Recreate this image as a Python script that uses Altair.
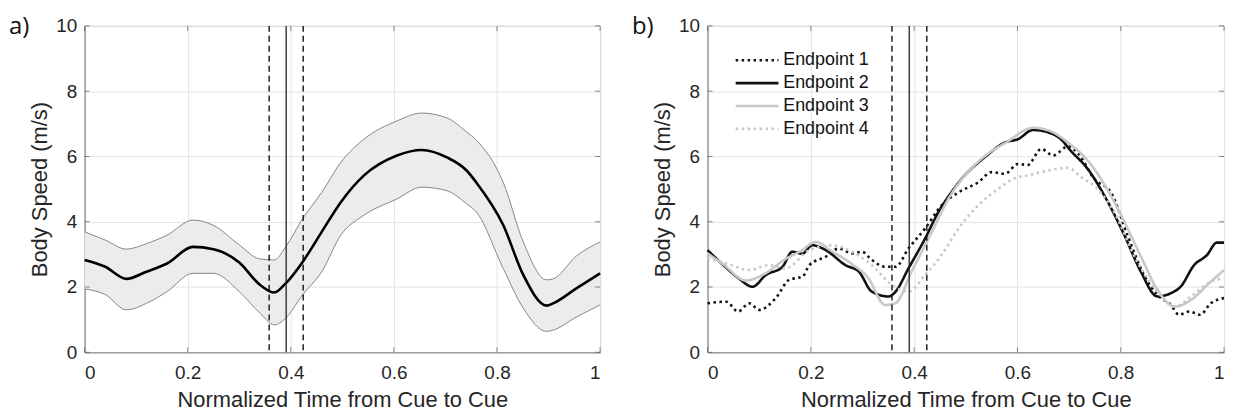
import altair as alt
import pandas as pd

# ---------------- data: panel a (mean and band) ----------------
a_t = [0, 0.04, 0.081, 0.12, 0.16, 0.21, 0.25, 0.3, 0.34, 0.368, 0.39, 0.423, 0.46,
       0.497, 0.542, 0.606, 0.654, 0.703, 0.741, 0.76, 0.812, 0.851, 0.896, 0.909, 0.954, 1.0]
a_mean = [2.83, 2.62, 2.25, 2.47, 2.72, 3.23, 3.16, 2.75, 2.07, 1.83, 2.11, 2.77, 3.69,
          4.6, 5.42, 6.03, 6.2, 5.97, 5.57, 5.2, 3.9, 2.37, 1.43, 1.5, 1.96, 2.42]
a_upper = [3.69, 3.44, 3.16, 3.33, 3.59, 4.05, 3.89, 3.29, 2.86, 2.83, 3.23, 4.1, 4.9,
           5.82, 6.53, 7.09, 7.33, 7.18, 6.75, 6.5, 5.21, 3.38, 2.22, 2.25, 2.95, 3.38]
a_lower = [1.94, 1.77, 1.3, 1.5, 1.86, 2.42, 2.42, 1.86, 1.2, 0.84, 1.05, 1.76, 2.47,
           3.59, 4.2, 4.7, 5.06, 4.95, 4.55, 4.3, 2.57, 1.35, 0.64, 0.68, 1.08, 1.45]
a_dashed = [0.358, 0.424]
a_solid = [0.391]

# ---------------- data: panel b (four endpoints) ----------------
series_names = ["Endpoint 1", "Endpoint 2", "Endpoint 3", "Endpoint 4"]

e1_t = [0, 0.036, 0.059, 0.081, 0.1, 0.132, 0.158, 0.184, 0.197, 0.229, 0.254, 0.28, 0.299,
        0.318, 0.344, 0.364, 0.389, 0.421, 0.453, 0.486, 0.524, 0.55, 0.576, 0.601, 0.62,
        0.646, 0.669, 0.698, 0.717, 0.749, 0.781, 0.813, 0.845, 0.871, 0.897, 0.913, 0.932,
        0.954, 0.974, 1.0]
e1_v = [1.5, 1.55, 1.25, 1.5, 1.3, 1.66, 2.22, 2.32, 2.67, 2.93, 3.18, 3.03, 3.08,
        2.83, 2.62, 2.62, 3.18, 3.79, 4.5, 4.9, 5.21, 5.52, 5.47, 5.77, 5.74,
        6.23, 6.03, 6.31, 6.1, 5.31, 4.9, 3.59, 2.37, 1.76, 1.45, 1.15, 1.25,
        1.15, 1.5, 1.66]

e2_t = [0, 0.03, 0.06, 0.087, 0.113, 0.145, 0.164, 0.183, 0.203, 0.229, 0.267, 0.293, 0.318,
        0.351, 0.364, 0.389, 0.421, 0.447, 0.472, 0.498, 0.537, 0.576, 0.601, 0.63, 0.659,
        0.684, 0.703, 0.736, 0.768, 0.807, 0.839, 0.871, 0.897, 0.916, 0.942, 0.967, 0.986, 1.0]
e2_v = [3.13, 2.68, 2.27, 2.01, 2.37, 2.62, 3.08, 3.02, 3.28, 3.13, 2.67, 2.47, 1.86,
        1.71, 1.86, 2.57, 3.48, 4.3, 4.9, 5.42, 5.98, 6.43, 6.53, 6.81, 6.74,
        6.53, 6.18, 5.62, 4.81, 3.59, 2.47, 1.71, 1.81, 2.01, 2.67, 2.98, 3.36, 3.36]

e3_t = [0, 0.03, 0.074, 0.11, 0.15, 0.18, 0.21, 0.24, 0.28, 0.31, 0.344, 0.364, 0.395, 0.43,
        0.47, 0.5, 0.54, 0.58, 0.63, 0.66, 0.7, 0.74, 0.77, 0.81, 0.84, 0.87, 0.905, 0.94,
        0.97, 1.0]
e3_v = [3.03, 2.7, 2.2, 2.4, 2.85, 3.1, 3.38, 3.1, 2.7, 2.3, 1.45, 1.51, 2.47, 3.55,
        4.8, 5.45, 6.05, 6.45, 6.88, 6.8, 6.4, 5.8, 5.1, 3.9, 2.9, 1.95, 1.4, 1.65,
        2.1, 2.52]

e4_t = [0, 0.04, 0.081, 0.119, 0.151, 0.197, 0.241, 0.28, 0.318, 0.357, 0.389, 0.421, 0.453,
        0.486, 0.524, 0.563, 0.601, 0.62, 0.659, 0.698, 0.723, 0.755, 0.787, 0.832, 0.871,
        0.905, 0.936, 0.974, 1.0]
e4_v = [2.88, 2.7, 2.52, 2.67, 2.57, 3.13, 3.28, 3.08, 2.67, 2.06, 1.86, 2.37, 2.98,
        3.79, 4.5, 5.01, 5.37, 5.42, 5.57, 5.65, 5.37, 5.01, 4.3, 2.77, 1.86,
        1.4, 1.71, 2.16, 2.27]

b_dashed = [0.357, 0.4245]
b_solid = [0.3905]

x_ticks = [0, 0.2, 0.4, 0.6, 0.8, 1]
y_ticks = [0, 2, 4, 6, 8, 10]

# ---------------- styling ----------------
FONT = "Liberation Sans"
TXT = "#262626"
W, H = 518, 328
XS = alt.Scale(domain=[0, 1], nice=False)
YS = alt.Scale(domain=[0, 10], nice=False)

x_axis = alt.Axis(values=x_ticks, format="~g", title="Normalized Time from Cue to Cue",
                  titlePadding=7, labelPadding=11)
y_axis = alt.Axis(values=y_ticks, title="Body Speed (m/s)", titlePadding=4, labelPadding=8)


def vlines(dashed, solid):
    ddf = pd.DataFrame({"t": dashed})
    sdf = pd.DataFrame({"t": solid})
    d = alt.Chart(ddf).mark_rule(color="#111111", strokeWidth=1.4, strokeDash=[6, 4]).encode(
        x=alt.X("t:Q", scale=XS))
    s = alt.Chart(sdf).mark_rule(color="#222222", strokeWidth=1.3).encode(x=alt.X("t:Q", scale=XS))
    return d + s


def inner_ticks(width):
    """MATLAB-style inward tick marks on all four sides."""
    xdf = pd.DataFrame({"t": x_ticks})
    ydf = pd.DataFrame({"v": y_ticks})
    style = dict(color="#555555", thickness=1, size=5)
    bottom = alt.Chart(xdf).mark_tick(orient="vertical", **style).encode(
        x=alt.X("t:Q", scale=XS), y=alt.value(H - 2.5))
    top = alt.Chart(xdf).mark_tick(orient="vertical", **style).encode(
        x=alt.X("t:Q", scale=XS), y=alt.value(2.5))
    left = alt.Chart(ydf).mark_tick(orient="horizontal", **style).encode(
        y=alt.Y("v:Q", scale=YS), x=alt.value(2.5))
    right = alt.Chart(ydf).mark_tick(orient="horizontal", **style).encode(
        y=alt.Y("v:Q", scale=YS), x=alt.value(width - 2.5))
    return bottom + top + left + right


def panel_label(txt):
    return alt.Chart(pd.DataFrame({"l": [txt]})).mark_text(
        font="Open Sans", fontSize=24, align="left", baseline="alphabetic", color="#111111"
    ).encode(x=alt.value(-76), y=alt.value(8), text="l:N")


# panel a
df_a = pd.DataFrame({"t": a_t, "mean": a_mean, "upper": a_upper, "lower": a_lower})
band = alt.Chart(df_a).mark_area(color="#ececec", opacity=1, interpolate="monotone").encode(
    x=alt.X("t:Q", scale=XS, axis=x_axis),
    y=alt.Y("upper:Q", scale=YS, axis=y_axis),
    y2="lower:Q")
up_line = alt.Chart(df_a).mark_line(color="#7a7a7a", strokeWidth=0.9, interpolate="monotone").encode(
    x="t:Q", y="upper:Q")
lo_line = alt.Chart(df_a).mark_line(color="#7a7a7a", strokeWidth=0.9, interpolate="monotone").encode(
    x="t:Q", y="lower:Q")
mean_line = alt.Chart(df_a).mark_line(color="black", strokeWidth=2.6, interpolate="monotone").encode(
    x="t:Q", y="mean:Q")

panel_a = alt.layer(band, up_line, lo_line, mean_line, vlines(a_dashed, a_solid),
                    inner_ticks(W), panel_label("a)")).properties(width=W, height=H)

# panel b
rows = []
for name, ts, vs in zip(series_names, [e1_t, e2_t, e3_t, e4_t], [e1_v, e2_v, e3_v, e4_v]):
    for t, v in zip(ts, vs):
        rows.append({"series": name, "t": t, "v": v})
df_b = pd.DataFrame(rows)

# long line symbol (2x the nominal symbol size) so rows stay compact
leg = alt.Legend(title=None, orient="none", legendX=674, legendY=22, symbolType="M-3,0H1",
                 symbolSize=462, symbolStrokeWidth=2.6, labelFontSize=18, labelFont=FONT,
                 labelColor="#111111", labelOffset=3, rowPadding=1, padding=0)
lines_b = alt.Chart(df_b).mark_line(strokeWidth=2.6, interpolate="monotone").encode(
    x=alt.X("t:Q", scale=XS, axis=x_axis),
    y=alt.Y("v:Q", scale=YS, axis=y_axis),
    color=alt.Color("series:N", scale=alt.Scale(domain=series_names,
                                                 range=["#111111", "#111111", "#c8c8c8", "#c8c8c8"]),
                    legend=leg),
    strokeDash=alt.StrokeDash("series:N", scale=alt.Scale(domain=series_names,
                                                           range=[[2.5, 3.5], [1, 0], [1, 0], [2.5, 3.5]]),
                              legend=leg),
    order=alt.Order("t:Q"))

panel_b = alt.layer(lines_b, vlines(b_dashed, b_solid), inner_ticks(W + 1),
                    panel_label("b)")).properties(width=W + 1, height=H)

chart = alt.hconcat(panel_a, panel_b, spacing=25).properties(
    padding={"left": 0, "top": 5, "right": 0, "bottom": 0}
).configure_view(stroke="#8a8a8a", strokeWidth=1).configure_axis(
    labelFont=FONT, titleFont=FONT, labelFontSize=19, titleFontSize=22,
    labelColor=TXT, titleColor=TXT, titleFontWeight="normal",
    domainColor="#8a8a8a", gridColor="#e4e4e4", gridWidth=1, ticks=False
).configure_axisX(labelBaseline="top")

chart.save("out.html", embed_options={"renderer": "svg", "actions": False})
